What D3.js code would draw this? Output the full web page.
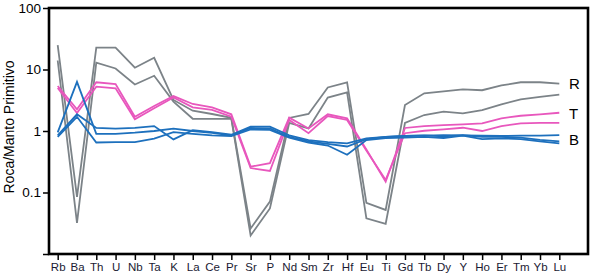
<!DOCTYPE html>
<html>
<head>
<meta charset="utf-8">
<script src="https://cdn.jsdelivr.net/npm/d3@7"></script>
<style>
  body { margin: 0; background: #fff; }
  svg { font-family: "Liberation Sans", Arial, sans-serif; display: block; }
</style>
</head>
<body>
<svg id="chart" width="594" height="276"></svg>
<script>
// ── Data ──────────────────────────────────────────────────────────────────────
const elements = ["Rb","Ba","Th","U","Nb","Ta","K","La","Ce","Pr","Sr","P","Nd","Sm",
                  "Zr","Hf","Eu","Ti","Gd","Tb","Dy","Y","Ho","Er","Tm","Yb","Lu"];

// group R (gray)
const r1 = [25, 0.085, 22.6, 22.6, 10.7, 15.5, 3.2, 2.14, 1.89, 1.64, 0.026, 0.071, 1.63, 1.89,
            5.1, 6.2, 0.068, 0.052, 2.64, 4.1, 4.4, 4.76, 4.6, 5.5, 6.2, 6.2, 5.9];
const r2 = [14, 0.032, 12.9, 10.4, 5.7, 7.9, 3.0, 1.58, 1.58, 1.58, 0.020, 0.055, 1.35, 1.1,
            3.5, 4.25, 0.038, 0.031, 1.35, 1.82, 2.06, 1.94, 2.19, 2.71, 3.28, 3.6, 3.9];
// group T (pink)
const t1 = [5.4, 2.25, 6.2, 5.8, 1.71, 2.55, 3.7, 2.75, 2.43, 1.87, 0.263, 0.30, 1.65, 1.1,
            1.87, 1.61, 0.5, 0.15, 1.12, 1.2, 1.25, 1.28, 1.33, 1.61, 1.77, 1.87, 1.98];
const t2 = [5.0, 1.96, 5.25, 4.95, 1.55, 2.34, 3.5, 2.43, 2.2, 1.71, 0.25, 0.224, 1.51, 0.92,
            1.75, 1.51, 0.48, 0.16, 0.92, 1.01, 1.06, 1.13, 1.0, 1.2, 1.33, 1.36, 1.36];
// group B (blue)
const b1 = [0.95, 6.3, 0.9, 0.9, 0.94, 1.0, 1.09, 1.0, 0.93, 0.85, 1.12, 1.1, 0.8, 0.68,
            0.62, 0.56, 0.74, 0.8, 0.83, 0.85, 0.82, 0.86, 0.8, 0.8, 0.78, 0.72, 0.68];
const b2 = [0.85, 1.87, 1.12, 1.09, 1.12, 1.2, 0.73, 1.03, 0.96, 0.87, 1.18, 1.18, 0.85, 0.71,
            0.66, 0.63, 0.76, 0.8, 0.83, 0.84, 0.86, 0.85, 0.84, 0.83, 0.84, 0.84, 0.86];
const b3 = [0.8, 1.7, 0.65, 0.66, 0.66, 0.75, 0.96, 0.9, 0.85, 0.83, 1.06, 1.04, 0.78, 0.65,
            0.58, 0.41, 0.71, 0.77, 0.78, 0.8, 0.77, 0.84, 0.74, 0.76, 0.74, 0.68, 0.63];

const yTicks  = [0.01, 0.1, 1, 10, 100];
const yLabels = ["", "0.1", "1", "10", "100"];

const groupLabels = [
  { key: "R", value: 5.9 },
  { key: "T", value: 1.95 },
  { key: "B", value: 0.72 },
];

const COLORS = { R: "#7c8388", T: "#e857bd", B: "#1d70bd" };

const series = [
  { group: "R", values: r1 }, { group: "R", values: r2 },
  { group: "T", values: t1 }, { group: "T", values: t2 },
  { group: "B", values: b1 }, { group: "B", values: b2 }, { group: "B", values: b3 },
];

// ── Chart ─────────────────────────────────────────────────────────────────────
const W = 594, H = 276;
const M = { left: 49, right: 6, top: 8, bottom: 22 };
const svg = d3.select("#chart");

const x = d3.scalePoint().domain(elements).range([57.7, 559.3]);
const y = d3.scaleLog().domain([0.01, 100]).range([H - M.bottom, M.top]);

const line = d3.line()
  .x((d, i) => x(elements[i]))
  .y(d => y(d));

// lines (R drawn first so blue sits on top)
svg.append("g").selectAll("path")
  .data(series)
  .join("path")
  .attr("d", d => line(d.values))
  .attr("fill", "none")
  .attr("stroke", d => COLORS[d.group])
  .attr("stroke-width", 1.8)
  .attr("stroke-linejoin", "miter");

// frame
svg.append("rect")
  .attr("x", M.left).attr("y", M.top)
  .attr("width", W - M.left - M.right).attr("height", H - M.top - M.bottom)
  .attr("fill", "none").attr("stroke", "#000").attr("stroke-width", 2.6);

// y axis
const yAxis = svg.append("g")
  .attr("transform", `translate(${M.left},0)`)
  .call(d3.axisLeft(y).tickValues(yTicks)
    .tickFormat((d, i) => yLabels[i]).tickSize(6).tickPadding(2));
yAxis.select(".domain").remove();
yAxis.selectAll("line").attr("stroke", "#000").attr("stroke-width", 1.5);
yAxis.selectAll("text").attr("font-size", "13.5px").attr("fill", "#000");

// x axis
const xAxis = svg.append("g")
  .attr("transform", `translate(0,${H - M.bottom})`)
  .call(d3.axisBottom(x).tickSize(6).tickPadding(3));
xAxis.select(".domain").remove();
xAxis.selectAll("line").attr("stroke", "#000").attr("stroke-width", 1.5);
xAxis.selectAll("text").attr("font-size", "11.5px").attr("fill", "#1a1a33");

// y axis title
svg.append("text")
  .attr("transform", `translate(14,${(M.top + H - M.bottom) / 2 - 4}) rotate(-90)`)
  .attr("text-anchor", "middle")
  .attr("font-size", "14px")
  .text("Roca/Manto Primitivo");

// group labels
svg.append("g").selectAll("text")
  .data(groupLabels)
  .join("text")
  .attr("x", 569)
  .attr("y", d => y(d.value))
  .attr("dy", "0.36em")
  .attr("font-size", "15px")
  .text(d => d.key);
</script>
</body>
</html>
